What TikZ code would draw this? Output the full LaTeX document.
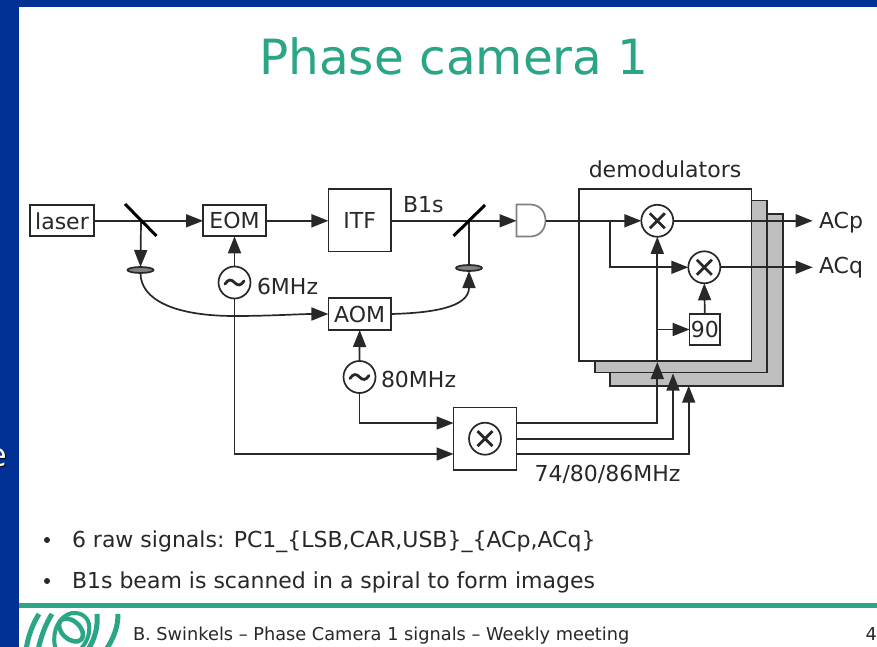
\documentclass[tikz,border=0pt]{standalone}
\usepackage{fontspec}
\setmainfont{DejaVu Sans}
\usetikzlibrary{arrows.meta,shapes.geometric}
\definecolor{barblue}{RGB}{0,48,148}
\definecolor{vgreen}{RGB}{42,165,133}
\definecolor{ink}{RGB}{40,40,40}
\definecolor{shade}{RGB}{190,190,190}
\tikzset{
  every node/.style={inner sep=0pt,outer sep=0pt,text=ink},
  lbl/.style={font=\fontsize{22}{26}\selectfont},
  blk/.style={draw=ink,fill=white,lbl,minimum width=#1,align=center},
  osc/.style={circle,draw=ink,fill=white,minimum size=32pt,
    path picture={\draw[ink,line width=2.8pt,line cap=round,shift={(path picture bounding box.center)}]
      (-9.5,1.5) .. controls (-6,-4) and (-3,-3) .. (0,0) .. controls (3,3) and (6,4) .. (9.5,-1.5);}},
  mix/.style={circle,draw=ink,fill=white,minimum size=32pt,
    path picture={\draw[ink,line width=2.8pt,shift={(path picture bounding box.center)}]
      (-7.5,-7.5) -- (7.5,7.5) (7.5,-7.5) -- (-7.5,7.5);}},
  lens/.style={ellipse,draw=ink,fill=gray,minimum width=26pt,minimum height=6pt},
  arr/.style={-{Triangle[length=17pt,width=13pt]},draw=ink},
  ln/.style={draw=ink},
  sheet/.style={rectangle,draw=ink,fill=shade,minimum width=172.5pt,minimum height=172pt},
  mirror/.style={draw=black,line width=3pt},
  logo/.style={draw=vgreen,line width=5pt}
}
\begin{document}
\begin{tikzpicture}[x=1pt,y=-1pt,line width=1.7pt]
\useasboundingbox (0,0) rectangle (877,647);
% slide frame
\fill[white] (0,0) rectangle (877,647);
\fill[barblue] (0,0) rectangle (877,7);
\fill[barblue] (0,0) rectangle (19,647);
\fill[vgreen] (19,603) rectangle (877,608);
\begin{scope}
\clip (0,425) rectangle (19,480);
\node[anchor=base east,text=black,font=\fontsize{32}{36}\selectfont] (cuts) at (8,467) {e};
\node[anchor=base east,text=white,font=\fontsize{32}{36}\selectfont] (cut) at (7,466) {e};
\end{scope}
\node[anchor=base,text=vgreen,font=\fontsize{48.5}{56}\selectfont] (title) at (454,75) {Phase camera 1};
% logo
\begin{scope}
\clip (19,609) rectangle (125,647);
\draw[logo] (26,650) .. controls (28,637) and (32,625) .. (39,614);
\draw[logo] (38,650) .. controls (41,637) and (45,625) .. (52,614);
\draw[logo,line width=4.5pt,rotate around={-42:(71,630)}] (71,630) ellipse (14 and 9);
\draw[logo,line width=4pt] (56,650) .. controls (50,632) and (60,615) .. (72,613) .. controls (84,612) and (91,620) .. (89,632) .. controls (88,640) and (84,645) .. (80,650);
\draw[logo] (97,614) .. controls (98,627) and (95,638) .. (89,648);
\draw[logo] (118,614) .. controls (118,628) and (113,639) .. (106,650);
\end{scope}
% sheets
\node[sheet] (s3) at (696.5,300) {};
\node[sheet] (s2) at (681,286.5) {};
\node[rectangle,draw=ink,fill=white,minimum width=172.5pt,minimum height=172pt] (s1) at (665.2,275) {};
\node[lbl,anchor=base] (demo) at (665,178) {demodulators};
% blocks
\node[blk=64pt,minimum height=31pt] (laser) at (62,220.8) {laser};
\node[blk=63pt,minimum height=31pt] (eom) at (234.5,220.8) {EOM};
\node[blk=62.5pt,minimum height=62.5pt] (itf) at (359.7,220.2) {ITF};
\node[blk=62.5pt,minimum height=32pt] (aom) at (359.7,314) {AOM};
\node[osc] (o6) at (234.5,282.5) {};
\node[osc] (o80) at (359.5,377) {};
\node[blk=63pt,minimum height=62.5pt] (mbox) at (485,438.7) {};
\node[mix] (mm) at (485,438.7) {};
\node[mix] (m1) at (657.3,220.8) {};
\node[mix] (m2) at (704.3,267.3) {};
\node[blk=30.5pt,minimum height=31pt] (nin) at (704.8,329.5) {90};
\node[lens] (l1) at (140.5,270) {};
\node[lens] (l2) at (469,268) {};
\coordinate (bm1) at (141,220.8);
\coordinate (bm2) at (469,220.8);
\coordinate (j1) at (610,220.8);
\coordinate (j2) at (657.3,329.5);
\coordinate (tm1) at (125,204);
\coordinate (tm2) at (156.5,236);
\coordinate (tn1) at (453.5,236);
\coordinate (tn2) at (485,205);
\node[lbl,anchor=base west] (f6) at (257,294) {6MHz};
\node[lbl,anchor=base west] (f80) at (381,387) {80MHz};
\node[lbl,anchor=base west] (b1s) at (403,212) {B1s};
\node[lbl,anchor=base west] (acp) at (819,228) {ACp};
\node[lbl,anchor=base west] (acq) at (819,273) {ACq};
\node[lbl,anchor=base] (mf) at (607.5,481) {74/80/86MHz};
% detector
\path[draw=gray,fill=white] (516.5,204.5) -- (530,204.5) .. controls (540,204.5) and (545.5,212) .. (545.5,220.5) .. controls (545.5,229) and (540,236.5) .. (530,236.5) -- (516.5,236.5) -- cycle;
\coordinate (dl) at (516.5,220.8);
\coordinate (dr) at (545.5,220.8);
% connectors
\draw[ln] (laser.east) -- (bm1);
\draw[arr] (bm1) -- (eom.west);
\draw[arr] (bm1) -- (l1.north);
\draw[arr] (eom.east) -- (itf.west |- eom.east);
\draw[ln] (itf.east |- bm2) -- (bm2);
\draw[arr] (bm2) -- (dl);
\draw[ln] (bm2) -- (l2.north);
\draw[mirror] (tm1) -- (tm2);
\draw[mirror] (tn1) -- (tn2);
\draw[arr] (o6.north) -- (eom.south);
\draw[arr] (o80.north) -- (aom.south);
\draw[arr] (l1.south) .. controls (140.5,300) and (175,316) .. (234.5,316) .. controls (270,316) and (300,314) .. (aom.west);
\draw[arr] (aom.east) .. controls (430,313) and (469,308) .. (l2.south);
\draw[arr] (o6.south) |- (mbox.west |- 0,454);
\draw[arr] (o80.south) |- (mbox.west |- 0,423);
\draw[ln] (dr) -- (j1);
\draw[arr] (j1) -- (m1.west);
\draw[arr] (j1) |- (m2.west);
\draw[arr] (m1.east) -- (812.7,220.8) coordinate (oa);
\draw[arr] (m2.east) -- (812.7,267.3) coordinate (ob);
\draw[arr] (nin.north) -- (m2.south);
\draw[arr] (j2) -- (nin.west);
\draw[arr] (mbox.east |- 0,423) -| (657.3,362) coordinate (h1);
\draw[arr] (h1) -- (m1.south);
\draw[arr] (mbox.east |- 0,439) -| (673,373.5);
\draw[arr] (mbox.east |- 0,454) -| (688.7,385.7);
% bullets
\fill[ink] (47,540) circle (3);
\fill[ink] (47,581) circle (3);
\node[lbl,anchor=base west] (bl1) at (72,547) {6 raw signals: PC1\_\{LSB,CAR,USB\}\_\{ACp,ACq\}};
\node[lbl,anchor=base west] (bl2) at (72,588) {B1s beam is scanned in a spiral to form images};
\node[anchor=base west,font=\fontsize{17.75}{22}\selectfont] (foot) at (133,640) {B. Swinkels – Phase Camera 1 signals – Weekly meeting};
\node[anchor=base east,font=\fontsize{17.75}{22}\selectfont] (pg) at (877,640) {4};
\end{tikzpicture}
\end{document}
